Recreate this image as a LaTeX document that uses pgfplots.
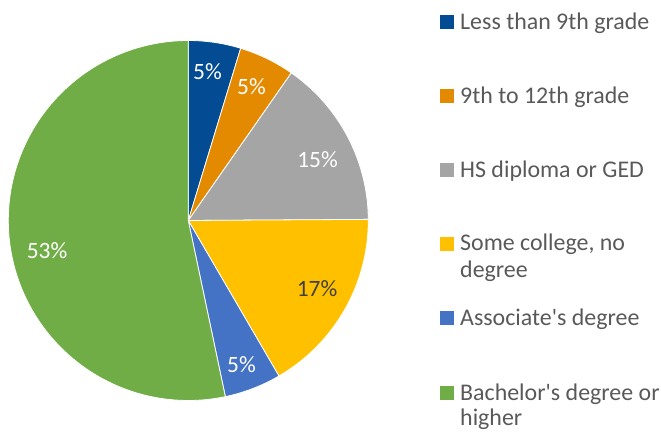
\documentclass[border=0pt]{standalone}
\usepackage{fontspec}
\setmainfont{Carlito}[Ligatures=TeXOff]
\usepackage{pgfplots}
\usepackage{pgfplotstable}
\pgfplotsset{compat=1.18}
\definecolor{cA}{HTML}{034C93}
\definecolor{cB}{HTML}{E38A00}
\definecolor{cC}{HTML}{A5A5A5}
\definecolor{cD}{HTML}{FFC000}
\definecolor{cE}{HTML}{4472C4}
\definecolor{cF}{HTML}{70AD47}
\definecolor{txt}{HTML}{595959}
\definecolor{lbl}{HTML}{404040}

% shares of the pie (percent)
\pgfplotstableread{
share
4.7
5.0
15.2
16.7
5.1
53.3
}\shares

\begin{document}
\begin{tikzpicture}
\pgfplotstablegetelem{0}{share}\of\shares \let\sA\pgfplotsretval
\pgfplotstablegetelem{1}{share}\of\shares \let\sB\pgfplotsretval
\pgfplotstablegetelem{2}{share}\of\shares \let\sC\pgfplotsretval
\pgfplotstablegetelem{3}{share}\of\shares \let\sD\pgfplotsretval
\pgfplotstablegetelem{4}{share}\of\shares \let\sE\pgfplotsretval
\pgfmathsetmacro{\tA}{90-3.6*\sA}
\pgfmathsetmacro{\tB}{\tA-3.6*\sB}
\pgfmathsetmacro{\tC}{\tB-3.6*\sC}
\pgfmathsetmacro{\tD}{\tC-3.6*\sD}
\pgfmathsetmacro{\tE}{\tD-3.6*\sE}
\def\cx{188.3}
\def\cy{211.5}
\def\R{180}
\begin{axis}[
  width=661bp, height=432bp, scale only axis,
  xmin=0, xmax=661, ymin=0, ymax=432,
  hide axis, clip=false,
]
\path (axis cs:0,0) rectangle (axis cs:661,432);
\addplot[fill=cA, draw=white, line width=0.8pt, domain=\tA:90, samples=30]
  ({\cx+\R*cos(x)},{\cy+\R*sin(x)}) -- (axis cs:\cx,\cy) -- cycle;
\addplot[fill=cB, draw=white, line width=0.8pt, domain=\tB:\tA, samples=30]
  ({\cx+\R*cos(x)},{\cy+\R*sin(x)}) -- (axis cs:\cx,\cy) -- cycle;
\addplot[fill=cC, draw=white, line width=0.8pt, domain=\tC:\tB, samples=60]
  ({\cx+\R*cos(x)},{\cy+\R*sin(x)}) -- (axis cs:\cx,\cy) -- cycle;
\addplot[fill=cD, draw=white, line width=0.8pt, domain=\tD:\tC, samples=60]
  ({\cx+\R*cos(x)},{\cy+\R*sin(x)}) -- (axis cs:\cx,\cy) -- cycle;
\addplot[fill=cE, draw=white, line width=0.8pt, domain=\tE:\tD, samples=30]
  ({\cx+\R*cos(x)},{\cy+\R*sin(x)}) -- (axis cs:\cx,\cy) -- cycle;
\addplot[fill=cF, draw=white, line width=0.8pt, domain=-270:\tE, samples=150]
  ({\cx+\R*cos(x)},{\cy+\R*sin(x)}) -- (axis cs:\cx,\cy) -- cycle;

% data labels
\begin{scope}[every node/.style={inner sep=0, anchor=center, font=\fontsize{23.5}{27}\selectfont}]
\node[text=white] at (axis cs:207.5,360.5) {5\%};
\node[text=white] at (axis cs:251.5,345.5) {5\%};
\node[text=white] at (axis cs:317.5,272) {15\%};
\node[text=lbl]   at (axis cs:317,143) {17\%};
\node[text=white] at (axis cs:241.5,67.3) {5\%};
\node[text=white] at (axis cs:47,181.5) {53\%};
\end{scope}

% legend
\addplot[only marks, mark=square*, mark size=6.5bp, color=cA] coordinates {(447,410)};
\addplot[only marks, mark=square*, mark size=6.5bp, color=cB] coordinates {(447,336)};
\addplot[only marks, mark=square*, mark size=6.5bp, color=cC] coordinates {(447,262)};
\addplot[only marks, mark=square*, mark size=6.5bp, color=cD] coordinates {(447,188.5)};
\addplot[only marks, mark=square*, mark size=6.5bp, color=cE] coordinates {(447,114)};
\addplot[only marks, mark=square*, mark size=6.5bp, color=cF] coordinates {(447,39)};
\begin{scope}[every node/.style={inner sep=0, anchor=base west, text=txt, font=\fontsize{24}{28}\selectfont}]
\node at (axis cs:460,402.7) {Less than 9th grade};
\node at (axis cs:460,328.7) {9th to 12th grade};
\node at (axis cs:460,254.7) {HS diploma or GED};
\node at (axis cs:460,181.2) {Some college, no};
\node at (axis cs:460,154.2) {degree};
\node at (axis cs:460,106.7) {Associate's degree};
\node at (axis cs:460,31.7) {Bachelor's degree or};
\node at (axis cs:460,6.2) {higher};
\end{scope}
\end{axis}
\end{tikzpicture}
\end{document}
